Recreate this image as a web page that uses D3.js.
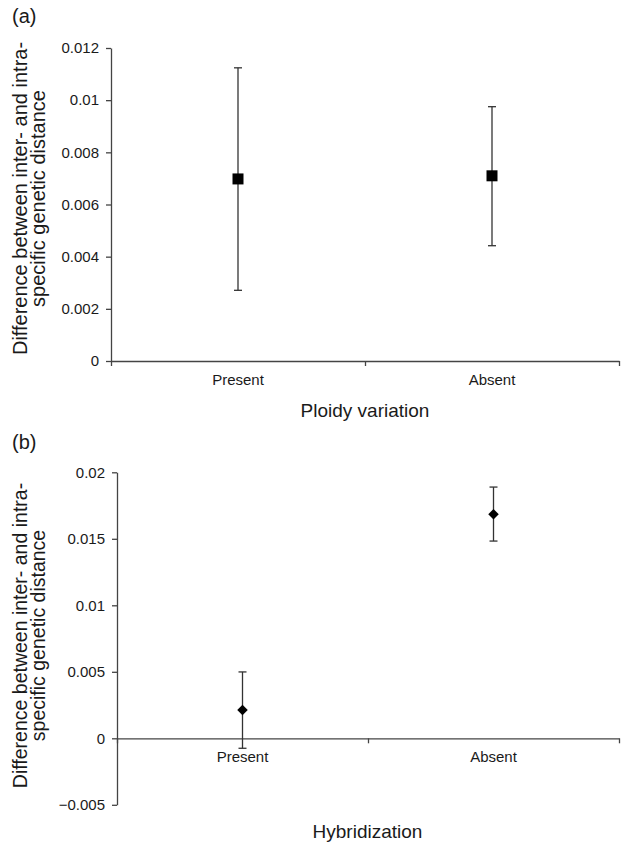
<!DOCTYPE html>
<html>
<head>
<meta charset="utf-8">
<script src="https://cdn.jsdelivr.net/npm/d3@7"></script>
<style>
  body { margin: 0; background: #fff; }
  svg text { font-family: "Liberation Sans", Arial, sans-serif; fill: #1a1a1a; }
</style>
</head>
<body>
<div id="PlotArea"></div>
<script>
// categories shared by both panels
var categories = ["Present", "Absent"];

// (a) ploidy variation: mean and error bar ends
var ploidyMean = [0.00698, 0.00710];
var ploidyLow  = [0.00271, 0.00442];
var ploidyHigh = [0.01124, 0.00975];
var ploidyTicks = [0, 0.002, 0.004, 0.006, 0.008, 0.01, 0.012];
var ploidyTickLabels = ["0", "0.002", "0.004", "0.006", "0.008", "0.01", "0.012"];

// (b) hybridization
var hybridMean = [0.00213, 0.01684];
var hybridLow  = [-0.00075, 0.01483];
var hybridHigh = [0.00499, 0.01889];
var hybridTicks = [-0.005, 0, 0.005, 0.01, 0.015, 0.02];
var hybridTickLabels = ["\u22120.005", "0", "0.005", "0.01", "0.015", "0.02"];

var yLabel1 = "Difference between inter- and intra-";
var yLabel2 = "specific genetic distance";

var svg = d3.select("#PlotArea").append("svg")
  .attr("width", 624)
  .attr("height", 846);

function drawPanel(p) {
  var g = svg.append("g");
  var xBand = d3.scaleBand().domain(categories).range([p.left, p.right]);
  var xEdge = d3.scaleLinear().domain([0, categories.length]).range([p.left, p.right]);
  var y = d3.scaleLinear().domain(p.domain).range([p.bottom, p.top]);
  var axisY = y(0);

  // y axis
  var ya = g.append("g").attr("transform", "translate(" + p.left + ",0)")
    .call(d3.axisLeft(y).tickValues(p.ticks)
      .tickFormat(function(d, i) { return p.tickLabels[i]; })
      .tickSize(5).tickSizeOuter(0).tickPadding(7));
  ya.selectAll("text").style("font-size", "15px");

  // x axis: boundary ticks
  g.append("g").attr("transform", "translate(0," + axisY + ")")
    .call(d3.axisBottom(xEdge).ticks(categories.length).tickFormat("").tickSize(5).tickSizeOuter(0));
  // x axis: category labels
  var xa = g.append("g").attr("transform", "translate(0," + axisY + ")")
    .call(d3.axisBottom(xBand).tickSize(0).tickPadding(p.catPad));
  xa.select(".domain").remove();
  xa.selectAll("text").style("font-size", "15px");

  g.selectAll(".domain, .tick line").attr("stroke", "#444").attr("stroke-width", 1.3);

  // error bars
  var cap = 4;
  var bars = g.selectAll(".err").data(categories).enter().append("g").attr("class", "err");
  bars.append("line")
    .attr("x1", function(d) { return xBand(d) + xBand.bandwidth() / 2; })
    .attr("x2", function(d) { return xBand(d) + xBand.bandwidth() / 2; })
    .attr("y1", function(d, i) { return y(p.low[i]); })
    .attr("y2", function(d, i) { return y(p.high[i]); });
  bars.append("line")
    .attr("x1", function(d) { return xBand(d) + xBand.bandwidth() / 2 - cap; })
    .attr("x2", function(d) { return xBand(d) + xBand.bandwidth() / 2 + cap; })
    .attr("y1", function(d, i) { return y(p.low[i]); })
    .attr("y2", function(d, i) { return y(p.low[i]); });
  bars.append("line")
    .attr("x1", function(d) { return xBand(d) + xBand.bandwidth() / 2 - cap; })
    .attr("x2", function(d) { return xBand(d) + xBand.bandwidth() / 2 + cap; })
    .attr("y1", function(d, i) { return y(p.high[i]); })
    .attr("y2", function(d, i) { return y(p.high[i]); });
  bars.selectAll("line").attr("stroke", "#333").attr("stroke-width", 1.3);

  // markers
  g.selectAll(".pt").data(categories).enter().append("path")
    .attr("class", "pt")
    .attr("d", d3.symbol().type(d3.symbolSquare).size(p.markerSize))
    .attr("transform", function(d, i) {
      return "translate(" + (xBand(d) + xBand.bandwidth() / 2) + "," + y(p.mean[i]) + ") rotate(" + p.markerRotate + ")";
    })
    .attr("fill", "#000");

  // panel letter
  g.append("text").attr("x", 12).attr("y", p.letterY).style("font-size", "20px").text(p.letter);

  // y title (two lines)
  g.append("text")
    .attr("transform", "translate(" + p.yLab1X + "," + p.yLabMid + ") rotate(-90)")
    .attr("text-anchor", "middle").style("font-size", p.yLabSize + "px").text(yLabel1);
  g.append("text")
    .attr("transform", "translate(" + p.yLab2X + "," + p.yLabMid + ") rotate(-90)")
    .attr("text-anchor", "middle").style("font-size", p.yLabSize + "px").text(yLabel2);

  // x title
  g.append("text").attr("x", p.titleX).attr("y", p.titleY)
    .attr("text-anchor", "middle").style("font-size", "19px").text(p.title);
}

drawPanel({
  left: 111, right: 619, top: 48, bottom: 361,
  domain: [0, 0.012], ticks: ploidyTicks, tickLabels: ploidyTickLabels,
  mean: ploidyMean, low: ploidyLow, high: ploidyHigh,
  markerSize: 121, markerRotate: 0, catPad: 13,
  letter: "(a)", letterY: 23,
  yLab1X: 27, yLab2X: 45, yLabMid: 198.5, yLabSize: 20,
  title: "Ploidy variation", titleX: 365, titleY: 417
});

drawPanel({
  left: 117, right: 619, top: 472.3, bottom: 804.8,
  domain: [-0.005, 0.02], ticks: hybridTicks, tickLabels: hybridTickLabels,
  mean: hybridMean, low: hybridLow, high: hybridHigh,
  markerSize: 55, markerRotate: 45, catPad: 13,
  letter: "(b)", letterY: 449,
  yLab1X: 27, yLab2X: 45, yLabMid: 635.5, yLabSize: 19.5,
  title: "Hybridization", titleX: 367.5, titleY: 838
});
</script>
</body>
</html>
